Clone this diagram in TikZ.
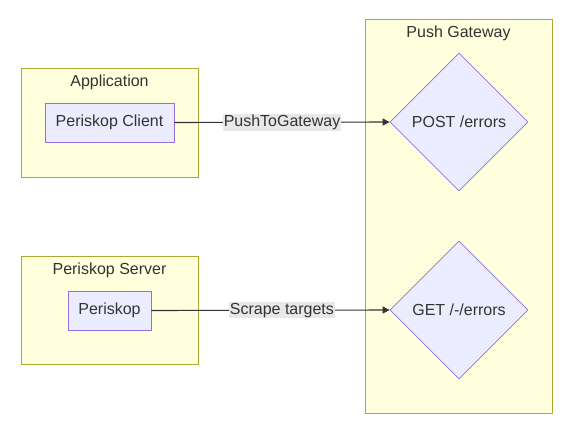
\documentclass[tikz,border=0pt]{standalone}
\usepackage{fontspec}
\setmainfont{Liberation Sans}
\usetikzlibrary{shapes.geometric,arrows.meta}
\definecolor{clfill}{HTML}{FFFFDE}
\definecolor{cldraw}{HTML}{AAAA33}
\definecolor{ndfill}{HTML}{ECECFF}
\definecolor{nddraw}{HTML}{9370DB}
\definecolor{edge}{HTML}{333333}
\definecolor{lblbg}{HTML}{E8E8E8}
\definecolor{txt}{HTML}{333333}
\tikzset{
  cluster/.style={draw=cldraw, fill=clfill, line width=0.8pt, inner sep=0pt},
  nodebox/.style={draw=nddraw, fill=ndfill, line width=0.8pt, inner sep=0pt, text=txt, font=\fontsize{16}{19}\selectfont},
  decision/.style={diamond, draw=nddraw, fill=ndfill, line width=0.8pt, inner sep=0pt, text=txt, font=\fontsize{16}{19}\selectfont, minimum width=138pt, minimum height=138pt, aspect=1},
  title/.style={text=txt, font=\fontsize{16}{19}\selectfont, inner sep=0pt},
  conn/.style={draw=edge, line width=1.1pt, -{Triangle[length=7pt,width=7pt]}},
  elabel/.style={fill=lblbg, text=txt, font=\fontsize{16}{19}\selectfont, inner sep=1pt}
}
\begin{document}
\begin{tikzpicture}[x=1pt,y=-1pt]
\useasboundingbox (0,0) rectangle (585,439);
% clusters
\node[cluster, minimum width=177pt, minimum height=109pt] (appc) at (109.5,122.5) {};
\node[title] (appt) at (109.5,82.5) {Application};
\node[cluster, minimum width=177pt, minimum height=108pt] (srvc) at (109.5,310) {};
\node[title] (srvt) at (109.5,270) {Periskop Server};
\node[cluster, minimum width=187pt, minimum height=394pt] (pgc) at (458.5,216) {};
\node[title] (pgt) at (458.5,33.5) {Push Gateway};
% nodes
\node[nodebox, minimum width=129pt, minimum height=39pt] (client) at (109.5,122.5) {Periskop Client};
\node[nodebox, minimum width=83pt, minimum height=39pt] (per) at (109.5,310.5) {Periskop};
\node[decision] (post) at (459,122) {POST /errors};
\node[decision] (get) at (459,310) {GET /-/errors};
% edges
\draw[conn] (client.east) -- node[elabel, pos=0.5] (l1) {PushToGateway} (post.west);
\draw[conn] (per.east) -- node[elabel, pos=0.548] (l2) {Scrape targets} (get.west);
\end{tikzpicture}
\end{document}
